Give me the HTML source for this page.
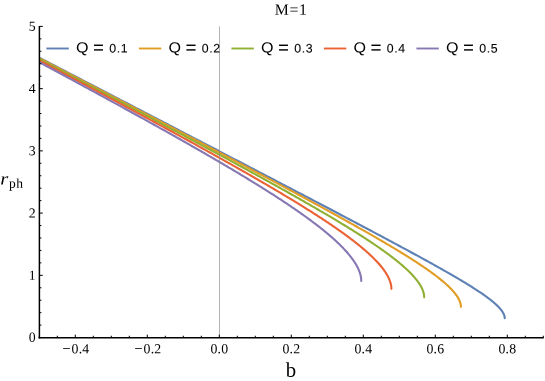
<!DOCTYPE html>
<html lang="en"><head><meta charset="utf-8"><title>M=1</title><style>
html,body{margin:0;padding:0;background:#fff;}
body{width:545px;height:381px;overflow:hidden;}
svg{display:block;will-change:transform;}
text{font-family:"Liberation Serif",serif;fill:#000;}
.sans text{font-family:"Liberation Sans",sans-serif;}
.curves polyline{fill:none;stroke-width:2.1;stroke-linejoin:round;stroke-linecap:round;}
</style></head><body>
<svg width="545" height="381" viewBox="0 0 545 381">
<rect width="545" height="381" fill="#fff"/>
<g class="curves">
<polyline points="40.38,58.26 43.48,59.87 46.57,61.48 49.65,63.07 52.72,64.67 55.78,66.26 58.83,67.84 61.87,69.42 64.90,70.99 67.91,72.56 70.92,74.12 73.92,75.68 76.90,77.23 79.88,78.77 82.85,80.32 85.80,81.85 88.75,83.38 91.68,84.91 94.61,86.42 97.52,87.94 100.42,89.45 103.32,90.95 106.20,92.45 109.07,93.94 111.93,95.43 114.78,96.91 117.62,98.39 120.46,99.86 123.28,101.32 126.09,102.78 128.89,104.24 131.67,105.69 134.45,107.13 137.22,108.57 139.98,110.00 142.73,111.43 145.46,112.86 148.19,114.27 150.91,115.69 153.61,117.09 156.31,118.50 158.99,119.89 161.67,121.28 164.33,122.67 166.99,124.05 169.63,125.42 172.27,126.79 174.89,128.16 177.50,129.52 180.10,130.87 182.69,132.22 185.28,133.56 187.85,134.90 190.41,136.23 192.96,137.56 195.50,138.88 198.03,140.20 200.55,141.51 203.06,142.82 205.55,144.12 208.04,145.41 210.52,146.70 212.99,147.99 215.44,149.27 217.89,150.54 220.33,151.81 222.75,153.07 225.17,154.33 227.57,155.58 229.97,156.83 232.35,158.07 234.72,159.31 237.09,160.54 239.44,161.77 241.78,162.99 244.11,164.21 246.44,165.42 248.75,166.62 251.05,167.82 253.34,169.02 255.62,170.21 257.89,171.39 260.15,172.57 262.40,173.75 264.63,174.91 266.86,176.08 269.08,177.24 271.29,178.39 273.49,179.54 275.67,180.68 277.85,181.82 280.01,182.95 282.17,184.07 284.31,185.20 286.45,186.31 288.57,187.42 290.69,188.53 292.79,189.63 294.88,190.72 296.97,191.81 299.04,192.90 301.10,193.98 303.15,195.05 305.19,196.12 307.23,197.19 309.25,198.25 311.26,199.30 313.26,200.35 315.25,201.39 317.22,202.43 319.19,203.46 321.15,204.49 323.10,205.51 325.04,206.53 326.96,207.54 328.88,208.55 330.79,209.55 332.68,210.55 334.57,211.54 336.44,212.53 338.31,213.51 340.16,214.48 342.00,215.45 343.84,216.42 345.66,217.38 347.47,218.34 349.28,219.29 351.07,220.23 352.85,221.17 354.62,222.11 356.38,223.04 358.13,223.97 359.87,224.89 361.60,225.80 363.32,226.71 365.03,227.62 366.73,228.52 368.42,229.41 370.09,230.30 371.76,231.19 373.42,232.07 375.06,232.94 376.70,233.81 378.33,234.68 379.94,235.54 381.55,236.39 383.14,237.24 384.72,238.09 386.30,238.93 387.86,239.76 389.42,240.59 390.96,241.42 392.49,242.24 394.01,243.06 395.52,243.87 397.02,244.67 398.51,245.47 400.00,246.27 401.47,247.06 402.92,247.85 404.37,248.63 405.81,249.41 407.24,250.18 408.66,250.94 410.07,251.71 411.46,252.47 412.85,253.22 414.23,253.97 415.59,254.71 416.95,255.45 418.29,256.18 419.63,256.91 420.95,257.64 422.27,258.36 423.57,259.07 424.86,259.78 426.15,260.49 427.42,261.19 428.68,261.89 429.93,262.58 431.17,263.27 432.41,263.95 433.63,264.63 434.84,265.31 436.04,265.97 437.23,266.64 438.40,267.30 439.57,267.96 440.73,268.61 441.88,269.26 443.02,269.90 444.14,270.54 445.26,271.17 446.37,271.80 447.46,272.43 448.55,273.05 449.62,273.67 450.69,274.28 451.74,274.89 452.79,275.49 453.82,276.09 454.84,276.69 455.86,277.28 456.86,277.87 457.85,278.45 458.83,279.03 459.80,279.61 460.76,280.18 461.72,280.75 462.66,281.31 463.58,281.87 464.50,282.42 465.41,282.98 466.31,283.52 467.20,284.07 468.08,284.61 468.95,285.14 469.80,285.67 470.65,286.20 471.48,286.73 472.31,287.25 473.13,287.77 473.93,288.28 474.73,288.79 475.51,289.29 476.28,289.80 477.05,290.29 477.80,290.79 478.54,291.28 479.28,291.77 480.00,292.25 480.71,292.73 481.41,293.21 482.10,293.68 482.78,294.15 483.45,294.62 484.11,295.08 484.76,295.54 485.40,296.00 486.03,296.46 486.65,296.91 487.25,297.35 487.85,297.80 488.44,298.24 489.01,298.67 489.58,299.11 490.14,299.54 490.68,299.97 491.22,300.39 491.74,300.81 492.26,301.23 492.76,301.64 493.25,302.06 493.74,302.47 494.21,302.87 494.67,303.28 495.12,303.68 495.56,304.07 496.00,304.47 496.42,304.86 496.83,305.25 497.23,305.63 497.62,306.01 498.00,306.39 498.36,306.77 498.72,307.14 499.07,307.52 499.41,307.88 499.74,308.25 500.05,308.61 500.36,308.97 500.65,309.33 500.94,309.68 501.22,310.03 501.48,310.38 501.73,310.73 501.98,311.07 502.21,311.41 502.44,311.75 502.65,312.08 502.85,312.42 503.04,312.75 503.23,313.07 503.40,313.40 503.56,313.72 503.71,314.04 503.85,314.35 503.98,314.67 504.10,314.98 504.21,315.28 504.31,315.59 504.39,315.89 504.47,316.19 504.54,316.49 504.60,316.78 504.64,317.07 504.68,317.36 504.71,317.65 504.72,317.93 504.73,318.21" stroke="#5E81B5"/>
<polyline points="40.38,58.82 43.19,60.28 45.99,61.74 48.78,63.20 51.56,64.65 54.33,66.09 57.09,67.53 59.84,68.97 62.58,70.40 65.32,71.82 68.04,73.24 70.75,74.66 73.46,76.07 76.15,77.48 78.84,78.88 81.52,80.28 84.18,81.67 86.84,83.06 89.49,84.44 92.13,85.82 94.76,87.19 97.38,88.56 99.99,89.93 102.59,91.29 105.18,92.64 107.76,93.99 110.34,95.34 112.90,96.68 115.46,98.01 118.00,99.34 120.54,100.67 123.06,101.99 125.58,103.31 128.09,104.62 130.58,105.93 133.07,107.23 135.55,108.53 138.02,109.82 140.48,111.11 142.93,112.39 145.37,113.67 147.81,114.95 150.23,116.21 152.64,117.48 155.04,118.74 157.44,120.00 159.82,121.25 162.20,122.49 164.57,123.73 166.92,124.97 169.27,126.20 171.61,127.43 173.94,128.65 176.25,129.87 178.56,131.08 180.86,132.29 183.16,133.50 185.44,134.70 187.71,135.89 189.97,137.08 192.22,138.27 194.47,139.45 196.70,140.62 198.93,141.79 201.14,142.96 203.35,144.12 205.55,145.28 207.73,146.43 209.91,147.58 212.08,148.72 214.24,149.86 216.39,151.00 218.53,152.13 220.66,153.25 222.78,154.37 224.89,155.49 227.00,156.60 229.09,157.71 231.17,158.81 233.25,159.91 235.31,161.00 237.37,162.09 239.42,163.17 241.45,164.25 243.48,165.33 245.50,166.40 247.51,167.46 249.51,168.52 251.50,169.58 253.48,170.63 255.45,171.68 257.41,172.72 259.36,173.76 261.30,174.80 263.24,175.83 265.16,176.85 267.07,177.87 268.98,178.89 270.88,179.90 272.76,180.91 274.64,181.91 276.51,182.91 278.36,183.90 280.21,184.89 282.05,185.88 283.88,186.86 285.70,187.83 287.51,188.80 289.32,189.77 291.11,190.73 292.89,191.69 294.66,192.65 296.43,193.60 298.18,194.54 299.93,195.48 301.66,196.42 303.39,197.35 305.11,198.28 306.81,199.20 308.51,200.12 310.20,201.04 311.88,201.95 313.55,202.85 315.21,203.75 316.86,204.65 318.50,205.55 320.14,206.43 321.76,207.32 323.37,208.20 324.98,209.08 326.57,209.95 328.16,210.82 329.73,211.68 331.30,212.54 332.86,213.39 334.40,214.24 335.94,215.09 337.47,215.93 338.99,216.77 340.50,217.61 342.00,218.44 343.49,219.26 344.97,220.08 346.45,220.90 347.91,221.72 349.36,222.52 350.81,223.33 352.24,224.13 353.67,224.93 355.08,225.72 356.49,226.51 357.89,227.30 359.27,228.08 360.65,228.86 362.02,229.63 363.38,230.40 364.73,231.16 366.07,231.92 367.40,232.68 368.72,233.44 370.04,234.19 371.34,234.93 372.63,235.67 373.92,236.41 375.19,237.14 376.46,237.88 377.71,238.60 378.96,239.32 380.20,240.04 381.42,240.76 382.64,241.47 383.85,242.18 385.05,242.88 386.24,243.58 387.42,244.28 388.59,244.97 389.76,245.66 390.91,246.34 392.05,247.03 393.18,247.70 394.31,248.38 395.42,249.05 396.53,249.72 397.62,250.38 398.71,251.04 399.79,251.70 400.86,252.35 401.91,253.00 402.96,253.64 404.00,254.29 405.03,254.92 406.05,255.56 407.07,256.19 408.07,256.82 409.06,257.44 410.04,258.07 411.02,258.68 411.98,259.30 412.94,259.91 413.88,260.52 414.82,261.12 415.74,261.73 416.66,262.32 417.57,262.92 418.47,263.51 419.36,264.10 420.24,264.69 421.11,265.27 421.97,265.85 422.82,266.42 423.66,267.00 424.49,267.56 425.32,268.13 426.13,268.69 426.94,269.25 427.73,269.81 428.52,270.37 429.29,270.92 430.06,271.46 430.82,272.01 431.56,272.55 432.30,273.09 433.03,273.63 433.75,274.16 434.46,274.69 435.16,275.22 435.85,275.74 436.54,276.26 437.21,276.78 437.87,277.30 438.53,277.81 439.17,278.32 439.81,278.83 440.43,279.33 441.05,279.83 441.65,280.33 442.25,280.83 442.84,281.32 443.42,281.81 443.99,282.30 444.55,282.78 445.10,283.26 445.64,283.74 446.17,284.22 446.69,284.69 447.20,285.17 447.71,285.63 448.20,286.10 448.69,286.56 449.16,287.02 449.63,287.48 450.08,287.94 450.53,288.39 450.97,288.84 451.40,289.29 451.81,289.73 452.22,290.18 452.62,290.62 453.01,291.06 453.40,291.49 453.77,291.92 454.13,292.35 454.48,292.78 454.83,293.20 455.16,293.63 455.48,294.05 455.80,294.46 456.10,294.88 456.40,295.29 456.69,295.70 456.97,296.11 457.23,296.51 457.49,296.92 457.74,297.32 457.98,297.71 458.21,298.11 458.43,298.50 458.65,298.89 458.85,299.28 459.04,299.66 459.22,300.05 459.40,300.43 459.56,300.81 459.72,301.18 459.86,301.55 460.00,301.92 460.13,302.29 460.24,302.66 460.35,303.02 460.45,303.38 460.54,303.74 460.62,304.10 460.69,304.45 460.75,304.80 460.80,305.15 460.85,305.50 460.88,305.84 460.90,306.18 460.92,306.52 460.92,306.86" stroke="#E19C24"/>
<polyline points="40.38,59.75 42.94,61.10 45.50,62.44 48.04,63.77 50.58,65.11 53.11,66.44 55.63,67.76 58.14,69.08 60.64,70.39 63.14,71.71 65.62,73.01 68.10,74.32 70.57,75.61 73.03,76.91 75.48,78.20 77.92,79.48 80.36,80.76 82.78,82.04 85.20,83.32 87.61,84.58 90.01,85.85 92.40,87.11 94.78,88.37 97.16,89.62 99.52,90.86 101.88,92.11 104.23,93.35 106.57,94.58 108.90,95.81 111.22,97.04 113.53,98.26 115.84,99.48 118.14,100.70 120.42,101.90 122.70,103.11 124.97,104.31 127.24,105.51 129.49,106.70 131.74,107.89 133.97,109.08 136.20,110.26 138.42,111.43 140.63,112.61 142.83,113.77 145.03,114.94 147.21,116.10 149.39,117.25 151.56,118.41 153.72,119.55 155.87,120.70 158.01,121.84 160.14,122.97 162.27,124.10 164.38,125.23 166.49,126.35 168.59,127.47 170.68,128.59 172.76,129.70 174.84,130.80 176.90,131.91 178.96,133.00 181.01,134.10 183.05,135.19 185.08,136.27 187.10,137.36 189.11,138.43 191.12,139.51 193.11,140.58 195.10,141.64 197.08,142.71 199.05,143.76 201.01,144.82 202.97,145.87 204.91,146.91 206.85,147.96 208.77,148.99 210.69,150.03 212.60,151.06 214.51,152.08 216.40,153.10 218.28,154.12 220.16,155.14 222.03,156.15 223.89,157.15 225.74,158.15 227.58,159.15 229.41,160.15 231.23,161.14 233.05,162.12 234.86,163.10 236.66,164.08 238.45,165.06 240.23,166.03 242.00,166.99 243.77,167.96 245.52,168.92 247.27,169.87 249.01,170.82 250.74,171.77 252.46,172.71 254.17,173.65 255.88,174.59 257.57,175.52 259.26,176.45 260.94,177.37 262.61,178.29 264.27,179.21 265.92,180.12 267.57,181.03 269.20,181.94 270.83,182.84 272.45,183.74 274.06,184.63 275.66,185.52 277.25,186.41 278.84,187.29 280.41,188.17 281.98,189.05 283.54,189.92 285.09,190.79 286.63,191.65 288.16,192.51 289.68,193.37 291.20,194.22 292.71,195.07 294.21,195.92 295.69,196.76 297.18,197.60 298.65,198.44 300.11,199.27 301.57,200.10 303.01,200.92 304.45,201.74 305.88,202.56 307.30,203.37 308.72,204.18 310.12,204.99 311.51,205.79 312.90,206.59 314.28,207.39 315.65,208.18 317.01,208.97 318.36,209.76 319.71,210.54 321.04,211.32 322.37,212.09 323.69,212.87 324.99,213.63 326.30,214.40 327.59,215.16 328.87,215.92 330.15,216.68 331.41,217.43 332.67,218.18 333.92,218.92 335.16,219.66 336.39,220.40 337.62,221.14 338.83,221.87 340.04,222.60 341.24,223.32 342.42,224.04 343.60,224.76 344.78,225.48 345.94,226.19 347.10,226.90 348.24,227.61 349.38,228.31 350.51,229.01 351.63,229.70 352.74,230.40 353.84,231.09 354.94,231.77 356.02,232.46 357.10,233.14 358.17,233.82 359.23,234.49 360.28,235.16 361.33,235.83 362.36,236.50 363.39,237.16 364.40,237.82 365.41,238.47 366.41,239.13 367.41,239.78 368.39,240.43 369.36,241.07 370.33,241.71 371.29,242.35 372.24,242.99 373.18,243.62 374.11,244.25 375.03,244.87 375.94,245.50 376.85,246.12 377.75,246.74 378.64,247.35 379.52,247.97 380.39,248.58 381.25,249.18 382.10,249.79 382.95,250.39 383.79,250.99 384.62,251.58 385.44,252.18 386.25,252.77 387.05,253.36 387.84,253.94 388.63,254.52 389.41,255.10 390.18,255.68 390.94,256.25 391.69,256.83 392.43,257.40 393.16,257.96 393.89,258.53 394.61,259.09 395.31,259.65 396.01,260.20 396.71,260.76 397.39,261.31 398.06,261.85 398.73,262.40 399.38,262.94 400.03,263.48 400.67,264.02 401.30,264.56 401.93,265.09 402.54,265.62 403.14,266.15 403.74,266.68 404.33,267.20 404.91,267.72 405.48,268.24 406.04,268.76 406.60,269.27 407.14,269.78 407.68,270.29 408.21,270.80 408.73,271.30 409.24,271.80 409.74,272.30 410.23,272.80 410.72,273.29 411.19,273.78 411.66,274.27 412.12,274.76 412.57,275.24 413.01,275.73 413.45,276.21 413.87,276.69 414.29,277.16 414.70,277.63 415.10,278.11 415.49,278.57 415.87,279.04 416.24,279.50 416.61,279.97 416.96,280.43 417.31,280.88 417.65,281.34 417.98,281.79 418.30,282.24 418.62,282.69 418.92,283.14 419.22,283.58 419.51,284.02 419.78,284.46 420.06,284.90 420.32,285.33 420.57,285.76 420.81,286.19 421.05,286.62 421.28,287.05 421.50,287.47 421.71,287.89 421.91,288.31 422.10,288.73 422.29,289.14 422.46,289.55 422.63,289.96 422.79,290.37 422.94,290.78 423.08,291.18 423.21,291.58 423.34,291.98 423.46,292.38 423.56,292.77 423.66,293.16 423.75,293.55 423.83,293.94 423.91,294.33 423.97,294.71 424.03,295.09 424.07,295.47 424.11,295.85 424.14,296.22 424.16,296.59 424.18,296.96 424.18,297.33" stroke="#8FB032"/>
<polyline points="40.38,61.07 42.72,62.31 45.06,63.55 47.39,64.78 49.71,66.02 52.02,67.24 54.33,68.47 56.62,69.68 58.91,70.90 61.19,72.11 63.47,73.32 65.73,74.52 67.99,75.73 70.24,76.92 72.48,78.11 74.71,79.30 76.94,80.49 79.16,81.67 81.37,82.85 83.57,84.02 85.77,85.19 87.95,86.36 90.13,87.52 92.30,88.68 94.47,89.84 96.62,90.99 98.77,92.14 100.91,93.28 103.04,94.42 105.17,95.56 107.28,96.69 109.39,97.82 111.49,98.95 113.58,100.07 115.67,101.19 117.75,102.30 119.81,103.42 121.88,104.52 123.93,105.63 125.98,106.73 128.01,107.82 130.04,108.92 132.06,110.00 134.08,111.09 136.09,112.17 138.08,113.25 140.07,114.32 142.06,115.40 144.03,116.46 146.00,117.53 147.96,118.59 149.91,119.64 151.85,120.70 153.79,121.74 155.72,122.79 157.64,123.83 159.55,124.87 161.45,125.91 163.35,126.94 165.24,127.96 167.12,128.99 168.99,130.01 170.86,131.03 172.71,132.04 174.56,133.05 176.40,134.06 178.24,135.06 180.06,136.06 181.88,137.05 183.69,138.05 185.49,139.03 187.29,140.02 189.07,141.00 190.85,141.98 192.62,142.95 194.39,143.93 196.14,144.89 197.89,145.86 199.63,146.82 201.36,147.78 203.08,148.73 204.80,149.68 206.51,150.63 208.21,151.57 209.90,152.51 211.58,153.45 213.26,154.38 214.93,155.31 216.59,156.24 218.24,157.16 219.89,158.08 221.52,159.00 223.15,159.91 224.77,160.82 226.39,161.73 227.99,162.63 229.59,163.53 231.18,164.42 232.76,165.32 234.34,166.21 235.90,167.09 237.46,167.98 239.01,168.86 240.56,169.73 242.09,170.60 243.62,171.47 245.14,172.34 246.65,173.20 248.15,174.06 249.65,174.92 251.14,175.77 252.62,176.62 254.09,177.47 255.56,178.32 257.01,179.16 258.46,179.99 259.90,180.83 261.33,181.66 262.76,182.49 264.18,183.31 265.59,184.13 266.99,184.95 268.38,185.77 269.77,186.58 271.15,187.39 272.52,188.19 273.88,189.00 275.23,189.80 276.58,190.59 277.92,191.39 279.25,192.18 280.57,192.96 281.89,193.75 283.20,194.53 284.50,195.31 285.79,196.08 287.07,196.86 288.35,197.62 289.62,198.39 290.88,199.15 292.13,199.91 293.37,200.67 294.61,201.43 295.84,202.18 297.06,202.93 298.27,203.67 299.48,204.41 300.68,205.15 301.87,205.89 303.05,206.62 304.22,207.36 305.39,208.08 306.55,208.81 307.70,209.53 308.84,210.25 309.97,210.97 311.10,211.68 312.22,212.39 313.33,213.10 314.43,213.81 315.53,214.51 316.62,215.21 317.70,215.91 318.77,216.60 319.83,217.29 320.89,217.98 321.94,218.67 322.98,219.35 324.01,220.03 325.03,220.71 326.05,221.38 327.06,222.06 328.06,222.73 329.05,223.39 330.04,224.06 331.02,224.72 331.99,225.38 332.95,226.04 333.90,226.69 334.85,227.34 335.79,227.99 336.72,228.64 337.64,229.28 338.56,229.92 339.46,230.56 340.36,231.20 341.25,231.83 342.14,232.46 343.01,233.09 343.88,233.71 344.74,234.34 345.59,234.96 346.44,235.58 347.27,236.19 348.10,236.81 348.92,237.42 349.73,238.03 350.54,238.63 351.34,239.24 352.12,239.84 352.91,240.44 353.68,241.03 354.44,241.63 355.20,242.22 355.95,242.81 356.69,243.40 357.43,243.98 358.15,244.56 358.87,245.14 359.58,245.72 360.29,246.30 360.98,246.87 361.67,247.44 362.35,248.01 363.02,248.57 363.68,249.14 364.34,249.70 364.99,250.26 365.63,250.81 366.26,251.37 366.88,251.92 367.50,252.47 368.11,253.02 368.71,253.56 369.30,254.11 369.89,254.65 370.46,255.19 371.03,255.72 371.59,256.26 372.15,256.79 372.69,257.32 373.23,257.85 373.76,258.38 374.28,258.90 374.80,259.42 375.30,259.94 375.80,260.46 376.29,260.97 376.78,261.48 377.25,261.99 377.72,262.50 378.18,263.01 378.63,263.51 379.07,264.02 379.51,264.52 379.94,265.01 380.36,265.51 380.77,266.00 381.17,266.49 381.57,266.98 381.96,267.47 382.34,267.96 382.71,268.44 383.08,268.92 383.44,269.40 383.79,269.88 384.13,270.35 384.46,270.82 384.79,271.30 385.10,271.76 385.41,272.23 385.72,272.69 386.01,273.16 386.30,273.62 386.58,274.08 386.85,274.53 387.11,274.99 387.37,275.44 387.61,275.89 387.85,276.34 388.08,276.78 388.31,277.23 388.52,277.67 388.73,278.11 388.93,278.55 389.12,278.98 389.31,279.41 389.49,279.85 389.65,280.28 389.82,280.70 389.97,281.13 390.11,281.55 390.25,281.97 390.38,282.39 390.50,282.81 390.62,283.23 390.72,283.64 390.82,284.05 390.91,284.46 390.99,284.87 391.07,285.27 391.14,285.67 391.19,286.08 391.25,286.47 391.29,286.87 391.32,287.27 391.35,287.66 391.37,288.05 391.38,288.44 391.39,288.83" stroke="#EB6235"/>
<polyline points="40.38,62.78 42.52,63.93 44.66,65.08 46.79,66.22 48.91,67.36 51.02,68.50 53.13,69.63 55.23,70.76 57.32,71.89 59.41,73.01 61.48,74.13 63.55,75.25 65.62,76.36 67.67,77.47 69.72,78.57 71.77,79.68 73.80,80.78 75.83,81.87 77.85,82.97 79.86,84.06 81.87,85.14 83.87,86.23 85.86,87.31 87.85,88.38 89.82,89.46 91.79,90.53 93.76,91.59 95.71,92.66 97.66,93.72 99.60,94.77 101.54,95.83 103.46,96.88 105.39,97.92 107.30,98.97 109.20,100.01 111.10,101.05 112.99,102.08 114.88,103.11 116.76,104.14 118.63,105.16 120.49,106.18 122.34,107.20 124.19,108.22 126.03,109.23 127.87,110.24 129.69,111.24 131.51,112.24 133.33,113.24 135.13,114.24 136.93,115.23 138.72,116.22 140.50,117.21 142.28,118.19 144.05,119.17 145.81,120.15 147.57,121.12 149.32,122.09 151.06,123.06 152.79,124.02 154.52,124.98 156.23,125.94 157.95,126.90 159.65,127.85 161.35,128.80 163.04,129.74 164.72,130.69 166.40,131.62 168.07,132.56 169.73,133.49 171.38,134.42 173.03,135.35 174.67,136.28 176.30,137.20 177.93,138.11 179.55,139.03 181.16,139.94 182.77,140.85 184.36,141.76 185.95,142.66 187.54,143.56 189.11,144.46 190.68,145.35 192.24,146.24 193.79,147.13 195.34,148.01 196.88,148.90 198.41,149.77 199.94,150.65 201.46,151.52 202.97,152.39 204.47,153.26 205.97,154.13 207.46,154.99 208.94,155.85 210.42,156.70 211.88,157.55 213.34,158.40 214.80,159.25 216.24,160.09 217.68,160.94 219.12,161.77 220.54,162.61 221.96,163.44 223.37,164.27 224.77,165.10 226.17,165.92 227.56,166.74 228.94,167.56 230.31,168.38 231.68,169.19 233.04,170.00 234.39,170.81 235.74,171.61 237.08,172.41 238.41,173.21 239.73,174.01 241.05,174.80 242.36,175.59 243.66,176.38 244.96,177.17 246.25,177.95 247.53,178.73 248.80,179.51 250.07,180.28 251.33,181.05 252.58,181.82 253.83,182.59 255.07,183.35 256.30,184.11 257.52,184.87 258.74,185.63 259.95,186.38 261.15,187.13 262.35,187.88 263.53,188.62 264.71,189.36 265.89,190.10 267.05,190.84 268.21,191.58 269.37,192.31 270.51,193.04 271.65,193.76 272.78,194.49 273.90,195.21 275.02,195.93 276.13,196.65 277.23,197.36 278.32,198.07 279.41,198.78 280.49,199.49 281.56,200.19 282.63,200.90 283.69,201.60 284.74,202.29 285.79,202.99 286.82,203.68 287.85,204.37 288.88,205.06 289.89,205.74 290.90,206.42 291.90,207.10 292.90,207.78 293.88,208.46 294.86,209.13 295.83,209.80 296.80,210.47 297.76,211.13 298.71,211.80 299.65,212.46 300.59,213.12 301.52,213.77 302.44,214.43 303.36,215.08 304.27,215.73 305.17,216.37 306.06,217.02 306.95,217.66 307.83,218.30 308.70,218.94 309.56,219.57 310.42,220.21 311.27,220.84 312.11,221.47 312.95,222.09 313.78,222.72 314.60,223.34 315.42,223.96 316.22,224.58 317.02,225.19 317.82,225.81 318.60,226.42 319.38,227.03 320.15,227.63 320.92,228.24 321.68,228.84 322.43,229.44 323.17,230.04 323.90,230.63 324.63,231.23 325.35,231.82 326.07,232.41 326.78,233.00 327.48,233.58 328.17,234.17 328.85,234.75 329.53,235.33 330.20,235.90 330.87,236.48 331.52,237.05 332.17,237.62 332.82,238.19 333.45,238.76 334.08,239.32 334.70,239.88 335.31,240.44 335.92,241.00 336.52,241.56 337.11,242.11 337.70,242.67 338.28,243.22 338.85,243.77 339.41,244.31 339.97,244.86 340.52,245.40 341.06,245.94 341.59,246.48 342.12,247.01 342.64,247.55 343.15,248.08 343.66,248.61 344.16,249.14 344.65,249.67 345.13,250.19 345.61,250.71 346.08,251.23 346.54,251.75 347.00,252.27 347.45,252.78 347.89,253.30 348.32,253.81 348.75,254.32 349.17,254.82 349.58,255.33 349.99,255.83 350.39,256.33 350.78,256.83 351.16,257.33 351.54,257.83 351.91,258.32 352.27,258.81 352.63,259.30 352.98,259.79 353.32,260.28 353.65,260.76 353.98,261.24 354.30,261.72 354.61,262.20 354.91,262.68 355.21,263.15 355.50,263.63 355.79,264.10 356.06,264.57 356.33,265.03 356.59,265.50 356.85,265.96 357.10,266.43 357.34,266.89 357.57,267.34 357.80,267.80 358.02,268.25 358.23,268.71 358.43,269.16 358.63,269.60 358.82,270.05 359.00,270.50 359.18,270.94 359.35,271.38 359.51,271.82 359.66,272.26 359.81,272.69 359.95,273.13 360.08,273.56 360.21,273.99 360.33,274.42 360.44,274.84 360.54,275.27 360.64,275.69 360.73,276.11 360.81,276.53 360.89,276.94 360.95,277.36 361.02,277.77 361.07,278.18 361.12,278.59 361.16,279.00 361.19,279.41 361.21,279.81 361.23,280.21 361.24,280.61 361.25,281.01" stroke="#8778B3"/>
</g>
<line x1="219.5" y1="26.40" x2="219.5" y2="337.55" stroke="#808080" stroke-opacity="0.6" stroke-width="1"/>
<g stroke="#000" stroke-width="1.5" fill="none">
<line x1="39.40" y1="25.90" x2="39.40" y2="338.45"/>
<line x1="38.65" y1="337.70" x2="543.80" y2="337.70"/>
</g>
<g stroke="#000" stroke-width="1" fill="none">
<line x1="39.30" y1="337.55" x2="39.30" y2="335.75"/>
<line x1="57.30" y1="337.55" x2="57.30" y2="335.75"/>
<line x1="75.30" y1="337.55" x2="75.30" y2="334.65"/>
<line x1="93.30" y1="337.55" x2="93.30" y2="335.75"/>
<line x1="111.30" y1="337.55" x2="111.30" y2="335.75"/>
<line x1="129.30" y1="337.55" x2="129.30" y2="335.75"/>
<line x1="147.30" y1="337.55" x2="147.30" y2="334.65"/>
<line x1="165.30" y1="337.55" x2="165.30" y2="335.75"/>
<line x1="183.30" y1="337.55" x2="183.30" y2="335.75"/>
<line x1="201.30" y1="337.55" x2="201.30" y2="335.75"/>
<line x1="219.30" y1="337.55" x2="219.30" y2="334.65"/>
<line x1="237.30" y1="337.55" x2="237.30" y2="335.75"/>
<line x1="255.30" y1="337.55" x2="255.30" y2="335.75"/>
<line x1="273.30" y1="337.55" x2="273.30" y2="335.75"/>
<line x1="291.30" y1="337.55" x2="291.30" y2="334.65"/>
<line x1="309.30" y1="337.55" x2="309.30" y2="335.75"/>
<line x1="327.30" y1="337.55" x2="327.30" y2="335.75"/>
<line x1="345.30" y1="337.55" x2="345.30" y2="335.75"/>
<line x1="363.30" y1="337.55" x2="363.30" y2="334.65"/>
<line x1="381.30" y1="337.55" x2="381.30" y2="335.75"/>
<line x1="399.30" y1="337.55" x2="399.30" y2="335.75"/>
<line x1="417.30" y1="337.55" x2="417.30" y2="335.75"/>
<line x1="435.30" y1="337.55" x2="435.30" y2="334.65"/>
<line x1="453.30" y1="337.55" x2="453.30" y2="335.75"/>
<line x1="471.30" y1="337.55" x2="471.30" y2="335.75"/>
<line x1="489.30" y1="337.55" x2="489.30" y2="335.75"/>
<line x1="507.30" y1="337.55" x2="507.30" y2="334.65"/>
<line x1="525.30" y1="337.55" x2="525.30" y2="335.75"/>
<line x1="543.30" y1="337.55" x2="543.30" y2="335.75"/>
<line x1="39.30" y1="337.55" x2="42.80" y2="337.55"/>
<line x1="39.30" y1="325.10" x2="41.40" y2="325.10"/>
<line x1="39.30" y1="312.66" x2="41.40" y2="312.66"/>
<line x1="39.30" y1="300.21" x2="41.40" y2="300.21"/>
<line x1="39.30" y1="287.77" x2="41.40" y2="287.77"/>
<line x1="39.30" y1="275.32" x2="42.80" y2="275.32"/>
<line x1="39.30" y1="262.87" x2="41.40" y2="262.87"/>
<line x1="39.30" y1="250.43" x2="41.40" y2="250.43"/>
<line x1="39.30" y1="237.98" x2="41.40" y2="237.98"/>
<line x1="39.30" y1="225.54" x2="41.40" y2="225.54"/>
<line x1="39.30" y1="213.09" x2="42.80" y2="213.09"/>
<line x1="39.30" y1="200.64" x2="41.40" y2="200.64"/>
<line x1="39.30" y1="188.20" x2="41.40" y2="188.20"/>
<line x1="39.30" y1="175.75" x2="41.40" y2="175.75"/>
<line x1="39.30" y1="163.31" x2="41.40" y2="163.31"/>
<line x1="39.30" y1="150.86" x2="42.80" y2="150.86"/>
<line x1="39.30" y1="138.41" x2="41.40" y2="138.41"/>
<line x1="39.30" y1="125.97" x2="41.40" y2="125.97"/>
<line x1="39.30" y1="113.52" x2="41.40" y2="113.52"/>
<line x1="39.30" y1="101.08" x2="41.40" y2="101.08"/>
<line x1="39.30" y1="88.63" x2="42.80" y2="88.63"/>
<line x1="39.30" y1="76.18" x2="41.40" y2="76.18"/>
<line x1="39.30" y1="63.74" x2="41.40" y2="63.74"/>
<line x1="39.30" y1="51.29" x2="41.40" y2="51.29"/>
<line x1="39.30" y1="38.85" x2="41.40" y2="38.85"/>
<line x1="39.30" y1="26.40" x2="42.80" y2="26.40"/>
</g>
<g class="ticklabels">
<text transform="translate(62.55 353.30) rotate(0.03) scale(1.03 1)" font-size="13.8" stroke="#000" stroke-width="0.2">−</text>
<text transform="translate(80.50 353.30) rotate(0.03)" font-size="13.8" text-anchor="middle" letter-spacing="0.25">0.4</text>
<text transform="translate(134.55 353.30) rotate(0.03) scale(1.03 1)" font-size="13.8" stroke="#000" stroke-width="0.2">−</text>
<text transform="translate(152.50 353.30) rotate(0.03)" font-size="13.8" text-anchor="middle" letter-spacing="0.25">0.2</text>
<text transform="translate(219.45 353.30) rotate(0.03)" font-size="13.8" text-anchor="middle" letter-spacing="0.25">0.0</text>
<text transform="translate(291.45 353.30) rotate(0.03)" font-size="13.8" text-anchor="middle" letter-spacing="0.25">0.2</text>
<text transform="translate(363.45 353.30) rotate(0.03)" font-size="13.8" text-anchor="middle" letter-spacing="0.25">0.4</text>
<text transform="translate(435.45 353.30) rotate(0.03)" font-size="13.8" text-anchor="middle" letter-spacing="0.25">0.6</text>
<text transform="translate(507.45 353.30) rotate(0.03)" font-size="13.8" text-anchor="middle" letter-spacing="0.25">0.8</text>
<text transform="translate(35.75 341.85) rotate(0.03)" font-size="13.8" text-anchor="end">0</text>
<text transform="translate(35.75 279.65) rotate(0.03)" font-size="13.8" text-anchor="end">1</text>
<text transform="translate(35.75 217.45) rotate(0.03)" font-size="13.8" text-anchor="end">2</text>
<text transform="translate(35.75 155.25) rotate(0.03)" font-size="13.8" text-anchor="end">3</text>
<text transform="translate(35.75 93.05) rotate(0.03)" font-size="13.8" text-anchor="end">4</text>
<text transform="translate(35.75 30.85) rotate(0.03)" font-size="13.8" text-anchor="end">5</text>
</g>
<text transform="translate(274.85 14.75) rotate(0.03)" font-size="15.8" letter-spacing="0.6">M=1</text>
<text transform="translate(291.00 376.70) rotate(0.03)" font-size="20.8" text-anchor="middle">b</text>
<text transform="translate(0.15 184.60) rotate(0.03) scale(1.17 1)" font-size="17.6" font-style="italic">r</text>
<text transform="translate(8.90 187.70) rotate(0.03)" font-size="13.5" letter-spacing="0.6">ph</text>
<g class="sans">
<line x1="46.4" y1="48.5" x2="68.8" y2="48.5" stroke="#5E81B5" stroke-width="1.9"/>
<text transform="translate(75.95 52.40) rotate(0.03) scale(1.095 1)" font-size="14.7">Q</text>
<text transform="translate(93.20 53.60) rotate(0.03)" font-size="18" stroke="#000" stroke-width="0.25">=</text>
<text transform="translate(109.30 52.45) rotate(0.03)" font-size="12.3" letter-spacing="0.62" stroke="#000" stroke-width="0.1">0.1</text>
<line x1="138.9" y1="48.5" x2="161.3" y2="48.5" stroke="#E19C24" stroke-width="1.9"/>
<text transform="translate(168.45 52.40) rotate(0.03) scale(1.095 1)" font-size="14.7">Q</text>
<text transform="translate(185.70 53.60) rotate(0.03)" font-size="18" stroke="#000" stroke-width="0.25">=</text>
<text transform="translate(201.80 52.45) rotate(0.03)" font-size="12.3" letter-spacing="0.62" stroke="#000" stroke-width="0.1">0.2</text>
<line x1="231.4" y1="48.5" x2="253.8" y2="48.5" stroke="#8FB032" stroke-width="1.9"/>
<text transform="translate(260.95 52.40) rotate(0.03) scale(1.095 1)" font-size="14.7">Q</text>
<text transform="translate(278.20 53.60) rotate(0.03)" font-size="18" stroke="#000" stroke-width="0.25">=</text>
<text transform="translate(294.30 52.45) rotate(0.03)" font-size="12.3" letter-spacing="0.62" stroke="#000" stroke-width="0.1">0.3</text>
<line x1="323.9" y1="48.5" x2="346.3" y2="48.5" stroke="#EB6235" stroke-width="1.9"/>
<text transform="translate(353.45 52.40) rotate(0.03) scale(1.095 1)" font-size="14.7">Q</text>
<text transform="translate(370.70 53.60) rotate(0.03)" font-size="18" stroke="#000" stroke-width="0.25">=</text>
<text transform="translate(386.80 52.45) rotate(0.03)" font-size="12.3" letter-spacing="0.62" stroke="#000" stroke-width="0.1">0.4</text>
<line x1="416.4" y1="48.5" x2="438.8" y2="48.5" stroke="#8778B3" stroke-width="1.9"/>
<text transform="translate(445.95 52.40) rotate(0.03) scale(1.095 1)" font-size="14.7">Q</text>
<text transform="translate(463.20 53.60) rotate(0.03)" font-size="18" stroke="#000" stroke-width="0.25">=</text>
<text transform="translate(479.30 52.45) rotate(0.03)" font-size="12.3" letter-spacing="0.62" stroke="#000" stroke-width="0.1">0.5</text>
</g>
</svg>
</body></html>
